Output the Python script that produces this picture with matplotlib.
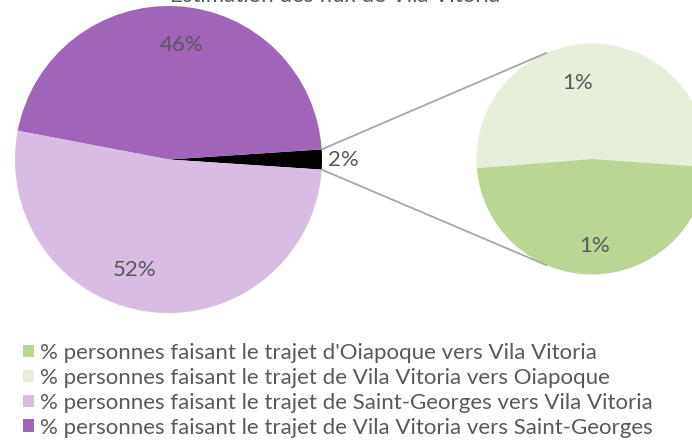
import matplotlib
matplotlib.use('Agg')
import matplotlib.pyplot as plt
import numpy as np
from matplotlib.patches import Patch

plt.rcParams['font.family'] = ['Lato', 'DejaVu Sans']

title = "Estimation des flux de Vila Vitoria"
categories = [
    "% personnes faisant le trajet d'Oiapoque vers Vila Vitoria",
    "% personnes faisant le trajet de Vila Vitoria vers Oiapoque",
    "% personnes faisant le trajet de Saint-Georges vers Vila Vitoria",
    "% personnes faisant le trajet de Vila Vitoria vers Saint-Georges",
]
values = [1.0, 1.1, 52.0, 46.0]
colors = ['#BBD593', '#E6EFDA', '#D8BCE2', '#A064B8']
other_color = '#000000'
text_color = '#595959'
FS = 16

W, H = 692, 446
fig = plt.figure(figsize=(W / 100, H / 100), dpi=100)
ax = fig.add_axes([0, 0, 1, 1])

total = sum(values)
other = values[0] + values[1]

# main pie
c1, r1 = (168.5, H - 159.5), 153.5
main_vals = [other, values[3], values[2]]
main_cols = [other_color, colors[3], colors[2]]
half = other / total * 360 / 2
ax.pie(main_vals, colors=main_cols, startangle=-half, counterclock=True,
       center=c1, radius=r1, frame=True,
       wedgeprops=dict(linewidth=0))

# secondary pie
c2, r2 = (592, H - 159), 115.5
sec_vals = [values[1], values[0]]
sec_cols = [colors[1], colors[0]]
ax.pie(sec_vals, colors=sec_cols, startangle=-4, counterclock=True,
       center=c2, radius=r2, frame=True,
       wedgeprops=dict(linewidth=0))
ax.set_xlim(0, W)
ax.set_ylim(0, H)
ax.set_aspect('equal')
ax.axis('off')

# connector lines
for sgn in (1, -1):
    a1 = np.deg2rad(sgn * half)
    a2 = np.deg2rad(180 - sgn * 67)
    ax.plot([c1[0] + r1 * np.cos(a1), c2[0] + r2 * np.cos(a2)],
            [c1[1] + r1 * np.sin(a1), c2[1] + r2 * np.sin(a2)],
            color='#A6A6A6', lw=1.3, solid_capstyle='butt')

def pct(v):
    return f"{round(v / total * 100):.0f}%"

def put(center, r, ang, dist, s):
    a = np.deg2rad(ang)
    ax.text(center[0] + r * dist * np.cos(a), center[1] + r * dist * np.sin(a), s,
            ha='center', va='center', fontsize=FS, color=text_color)

put(c1, r1, 83.3, 0.751, pct(values[3]))
put(c1, r1, 253.1, 0.752, pct(values[2]))
put(c1, r1, 0, 1.137, pct(other))
put(c2, r2, 101, 0.67, pct(values[1]))
put(c2, r2, 272, 0.753, pct(values[0]))

ax.text(335, H + 4, title, ha='center', va='center', fontsize=FS, color=text_color)

handles = [Patch(facecolor=c, edgecolor='none') for c in colors]
fig.legend(handles, categories, loc='upper left', bbox_to_anchor=(23 / W, 1 - 343 / H),
           frameon=False, fontsize=FS, handlelength=0.5, handleheight=0.5,
           handletextpad=0.25, labelspacing=0.22, borderaxespad=0, borderpad=0,
           labelcolor=text_color)

fig.savefig('out.png', dpi=100)
